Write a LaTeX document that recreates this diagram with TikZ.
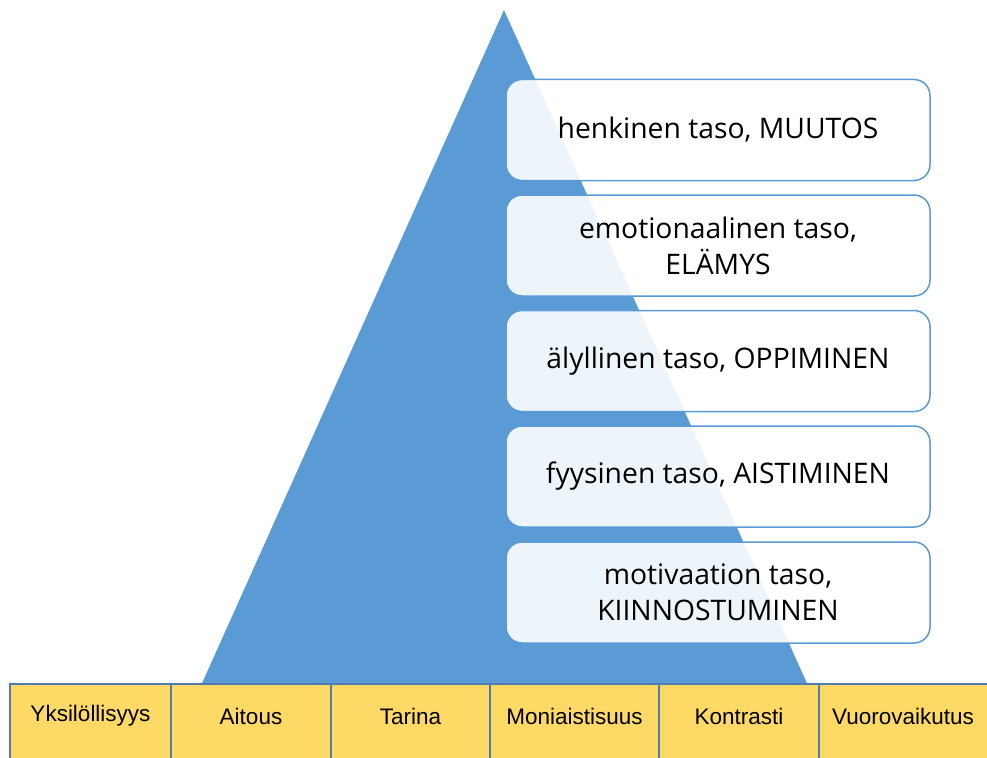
\documentclass[tikz,border=0pt]{standalone}
\usepackage{fontspec}
\setmainfont{Open Sans}
\newfontfamily\arialf{Liberation Sans}
\definecolor{triblue}{HTML}{5B9BD5}
\definecolor{cellyellow}{HTML}{FFD966}
\definecolor{cellline}{HTML}{4F7DB0}
\tikzset{
  levelbox/.style={draw=triblue, line width=1.5pt, fill=white, fill opacity=0.9, text opacity=1,
    rounded corners=16pt, minimum width=424pt, minimum height=101pt, align=center,
    font=\fontsize{28.3}{36}\selectfont, inner sep=0pt},
  cellbox/.style={draw=cellline, line width=1.5pt, fill=cellyellow},
  celltext/.style={font=\arialf\fontsize{22.5}{26}\selectfont, inner sep=0pt}
}
\begin{document}
\begin{tikzpicture}[x=1pt,y=-1pt]
\useasboundingbox (0,0) rectangle (987,757);
\clip (0,0) rectangle (987,757);
% pyramid
\coordinate (apex) at (504,10);
\coordinate (bl) at (199,690);
\coordinate (br) at (810,690);
\fill[triblue] (apex) -- (br) -- (bl) -- cycle;
% level boxes
\node[levelbox] (l1) at (718,130) {henkinen taso, MUUTOS};
\node[levelbox] (l2) at (718,245.5) {emotionaalinen taso,\\ELÄMYS};
\node[levelbox] (l3) at (718,361) {älyllinen taso, OPPIMINEN};
\node[levelbox] (l4) at (718,476.5) {fyysinen taso, AISTIMINEN};
\node[levelbox] (l5) at (718,592.5) {motivaation taso,\\KIINNOSTUMINEN};
% bottom cells
\draw[cellbox] (10,684) rectangle (171,775);
\draw[cellbox] (171,684) rectangle (331,775);
\draw[cellbox] (331,684) rectangle (490,775);
\draw[cellbox] (490,684) rectangle (659,775);
\draw[cellbox] (659,684) rectangle (819,775);
\draw[cellbox] (819,684) rectangle (1000,775);
\node[celltext] (c1) at (90.5,716) {Yksilöllisyys};
\node[celltext] (c2) at (251,716) {Aitous};
\node[celltext] (c3) at (410.5,716) {Tarina};
\node[celltext] (c4) at (574.5,716) {Moniaistisuus};
\node[celltext] (c5) at (739,716) {Kontrasti};
\node[celltext] (c6) at (903,716) {Vuorovaikutus};
\end{tikzpicture}
\end{document}
